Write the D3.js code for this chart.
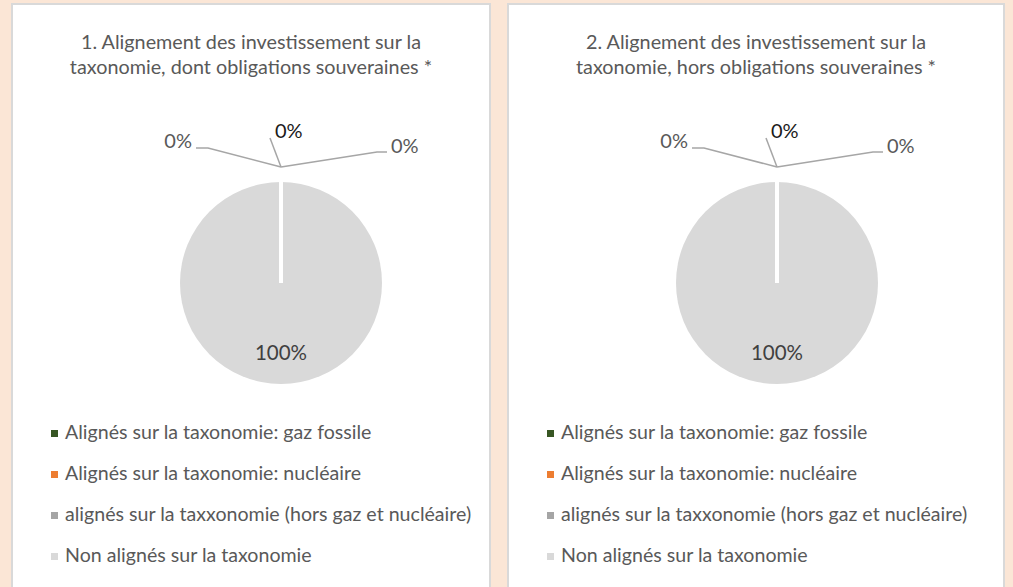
<!DOCTYPE html>
<html><head><meta charset="utf-8">
<script src="https://cdn.jsdelivr.net/npm/d3@7"></script>
<style>
html,body{margin:0;padding:0;background:#fbe6d6;}
svg{display:block;}
text{font-family:Lato,"Open Sans",sans-serif;}
</style></head>
<body><svg id="c" width="1013" height="587"></svg>
<script>
const categories = ["Alignés sur la taxonomie: gaz fossile","Alignés sur la taxonomie: nucléaire","alignés sur la taxxonomie (hors gaz et nucléaire)","Non alignés sur la taxonomie"];
const colors = ["#375623","#ed7d31","#a5a5a5","#d9d9d9"];
const titles = [["1. Alignement des investissement sur la","taxonomie, dont obligations souveraines *"],["2. Alignement des investissement sur la","taxonomie, hors obligations souveraines *"]];
const values1 = [0,0,0,100];
const values2 = [0,0,0,100];
const labels1 = ["0%","0%","0%","100%"];
const labels2 = ["0%","0%","0%","100%"];

const svg = d3.select("#c");
const panels = [
  {x:12,w:478,cx:281,legX:51,values:values1,labels:labels1,title:titles[0]},
  {x:508,w:496,cx:777,legX:547,values:values2,labels:labels2,title:titles[1]}
];
const cy = 283, r = 101;
// leader layout for the three zero slices: elbow offsets from apex, label anchor offsets
const leaders = [
  {pts:[[-73,-19],[-85,-19]], lx:-89, ly:-19, anchor:"end", color:"#595959"},
  {pts:[[-11,-29]], lx:-6, ly:-29, anchor:"start", color:"#1a1a1a"},
  {pts:[[96,-15],[106,-15]], lx:110, ly:-14, anchor:"start", color:"#595959"}
];
const pie = d3.pie().sort(null).value(d=>d);
const arc = d3.arc().innerRadius(0).outerRadius(r);

panels.forEach(p=>{
  const g = svg.append("g");
  g.append("rect").attr("x",p.x).attr("y",4).attr("width",p.w).attr("height",600)
    .attr("fill","#fff").attr("stroke","#d9d9d9").attr("stroke-width",2);
  const tcx = p.x + p.w/2;
  g.selectAll("text.title").data(p.title).enter().append("text")
    .attr("x",tcx).attr("y",(d,i)=>49+i*25).attr("text-anchor","middle")
    .attr("font-size",19.8).attr("fill","#595959").text(d=>d);
  const pg = g.append("g").attr("transform",`translate(${p.cx},${cy})`);
  const arcs = pie(p.values);
  pg.selectAll("path.slice").data(arcs).enter().append("path").attr("class","slice")
    .attr("d",arc).attr("fill",(d,i)=>colors[i]);
  // white slice borders
  pg.selectAll("line.sep").data(arcs).enter().append("line").attr("class","sep")
    .attr("x1",0).attr("y1",0)
    .attr("x2",d=>Math.sin(d.startAngle)*(r+1)).attr("y2",d=>-Math.cos(d.startAngle)*(r+1))
    .attr("stroke","#fff").attr("stroke-width",4);
  arcs.forEach((a,i)=>{
    const ang = (a.startAngle+a.endAngle)/2;
    if (a.value === 0) {
      const apex = [Math.sin(ang)*(r+15), -Math.cos(ang)*(r+15)];
      const L = leaders[i];
      const pts = [apex].concat(L.pts.map(q=>[apex[0]+q[0],apex[1]+q[1]]));
      pg.append("path").attr("d",d3.line()(pts)).attr("fill","none")
        .attr("stroke","#a6a6a6").attr("stroke-width",1.5);
      pg.append("text").attr("x",apex[0]+L.lx).attr("y",apex[1]+L.ly)
        .attr("text-anchor",L.anchor).attr("font-size",20).attr("fill",L.color).text(p.labels[i]);
    } else {
      pg.append("text").attr("x",0).attr("y",r*0.76).attr("text-anchor","middle")
        .attr("font-size",20.5).attr("fill","#404040").text(p.labels[i]);
    }
  });
  const lg = g.append("g");
  categories.forEach((c,i)=>{
    const y = 439 + i*41;
    lg.append("rect").attr("x",p.legX).attr("y",y-9).attr("width",7).attr("height",7).attr("fill",colors[i]);
    lg.append("text").attr("x",p.legX+14).attr("y",y).attr("font-size",19.6).attr("fill","#595959").text(c);
  });
});
</script></body></html>
